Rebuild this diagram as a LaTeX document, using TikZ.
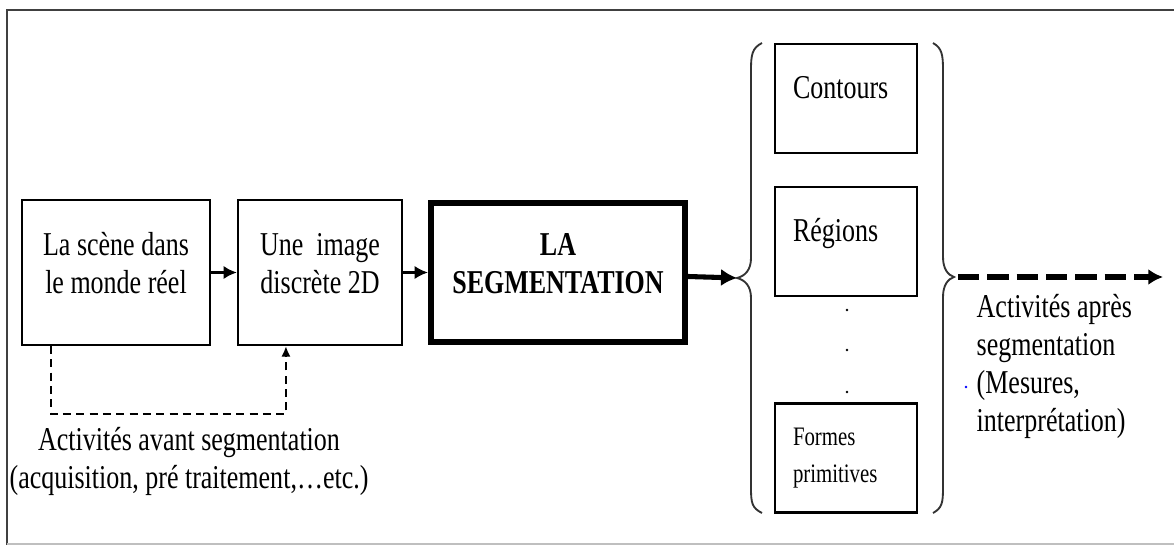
\documentclass[tikz,border=0pt]{standalone}
\usepackage{fontspec}
\setmainfont{Liberation Serif}[FakeStretch=0.78]
\usetikzlibrary{arrows.meta}

\tikzset{
	box/.style={draw, line width=1.6pt, align=center, inner sep=0pt},
	sidebox/.style={draw, line width=1.6pt, align=left, inner xsep=13.5pt,
		text width=79.5pt, minimum height=81.75pt, text height=17pt, text depth=17pt},
	link/.style={-{Latex[length=10pt,width=10pt]}, line width=2.4pt},
	brace/.style={line width=1.4pt, draw=black!80}
}

\begin{document}
\begin{tikzpicture}[x=0.75pt, y=-0.75pt,
	every node/.style={font=\fontsize{25}{28.5}\selectfont}]
	\useasboundingbox (0, 0) rectangle (1174, 545);

	% frame
	\draw[line width=2pt, draw=black!75] (7, 545) -- (7, 10) -- (1174, 10);
	\draw[line width=1.5pt, draw=black!25] (7, 544) -- (1174, 544);

	\node[box, minimum width=141pt, minimum height=108.75pt, text depth=14pt] (scene) at (116, 272.5)
		{La scène dans\\le monde réel};
	\node[box, minimum width=123pt, minimum height=108.75pt, text depth=14pt] (image) at (320, 272.5)
		{Une\ \ image\\discrète 2D};
	\node[box, line width=4.5pt, minimum width=190.5pt, minimum height=104.25pt, text depth=14pt,
		font=\fontsize{25}{28.5}\selectfont\bfseries] (seg) at (558, 272.5)
		{LA\\SEGMENTATION};

	\node[sidebox] (contours) at (846, 98.5) {Contours};
	\node[sidebox] (regions) at (846, 241.5) {Régions};
	\node[sidebox, text height=, text depth=, font=\fontsize{20}{27.75}\selectfont] (formes) at (846, 458)
		{Formes\\primitives};

	\foreach \y in {310, 350, 392} {
		\fill (847, \y) circle (1pt);
	}

	% braces
	\coordinate (bl) at (737, 278);
	\coordinate (br) at (954, 277);
	\draw[brace] (762, 43) .. controls (752, 48) and (751, 55) .. (751, 70) -- (751, 258)
		.. controls (751, 270) and (745, 276) .. (bl)
		.. controls (745, 280) and (751, 286) .. (751, 298) -- (751, 488)
		.. controls (751, 503) and (752, 508) .. (762, 513);
	\draw[brace] (933, 43) .. controls (942, 48) and (943, 55) .. (943, 70) -- (943, 257)
		.. controls (943, 269) and (948, 275) .. (br)
		.. controls (948, 279) and (943, 285) .. (943, 297) -- (943, 488)
		.. controls (943, 503) and (942, 508) .. (933, 513);

	\draw[link] (scene) -- (image);
	\draw[link] (image) -- (seg);
	\draw[link, line width=3.8pt, -{Latex[length=12pt,width=13pt]}] (seg) -- (bl);

	\coordinate (after) at (1163, 277);
	\draw[line width=4.5pt, dash pattern=on 16pt off 6pt, -{Latex[length=11pt,width=12pt]}]
		([xshift=3pt]br) -- (after);

	% before segmentation
	\draw[line width=1.8pt, dash pattern=on 6pt off 4pt, -{Latex[length=8pt,width=7pt]}]
		([xshift=22.5pt]scene.south west) -- ++(0, 68) -| ([xshift=36.75pt]image.south west);

	\node[align=center] (avant) at (189, 461)
		{Activités avant segmentation\\(acquisition, pré traitement,…etc.)};
	\node[align=left, anchor=west] (apres) at (972, 366)
		{Activités après\\segmentation\\(Mesures,\\interprétation)};
	\fill[blue] (966, 387) circle (1pt);
\end{tikzpicture}
\end{document}
